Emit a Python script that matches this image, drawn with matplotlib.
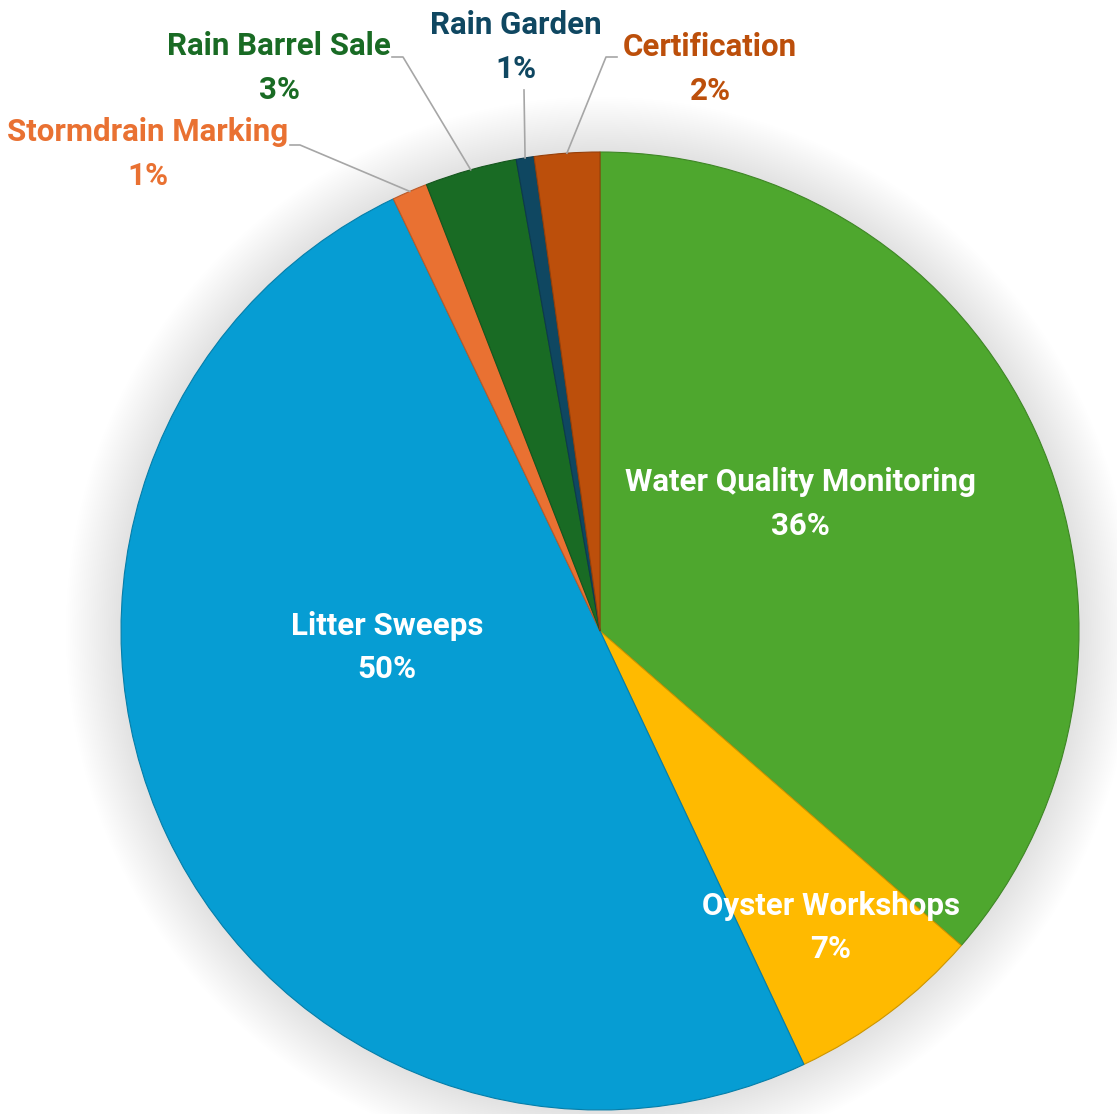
import numpy as np
import matplotlib.pyplot as plt
from matplotlib.patches import Circle
import matplotlib.colors as mcolors

# slices, clockwise from 12 o'clock
labels = ['Water Quality Monitoring', 'Oyster Workshops', 'Litter Sweeps',
          'Stormdrain Marking', 'Rain Barrel Sale', 'Rain Garden', 'Certification']
values = [36.4, 6.6, 49.9, 1.2, 3.1, 0.6, 2.2]
colors = ['#4EA72E', '#FFBA00', '#069DD3', '#E97132', '#196B24', '#0F4761', '#BC4F0B']

plt.rcParams['font.family'] = ['Roboto', 'DejaVu Sans']

W, H = 1117, 1114
fig = plt.figure(figsize=(W / 100, H / 100), dpi=100)
ax = fig.add_axes([0, 0, 1, 1])

cx, cy, R = 600, H - 631, 479

# soft glow behind the pie
for r in np.linspace(R + 55, R, 30):
    ax.add_patch(Circle((cx, cy), r, color='#808080', alpha=0.008, lw=0, zorder=0))

wedges, _ = ax.pie(values, colors=colors, startangle=90, counterclock=False,
                   center=(cx, cy), radius=R, frame=True,
                   wedgeprops=dict(linewidth=0.8))
for w, c in zip(wedges, colors):
    w.set_edgecolor(np.array(mcolors.to_rgb(c)) * 0.8)
    w.set_zorder(2)
ax.set_xlim(0, W)
ax.set_ylim(0, H)
ax.set_aspect('equal')
ax.axis('off')

pct = [f'{round(v)}%' for v in values]
fs = 22.5

# labels inside the big slices (offset from centre, in radius units)
inside = {0: (0.418, 0.265), 1: (0.482, -0.619), 2: (-0.445, -0.035)}
for i, (dx, dy) in inside.items():
    ax.text(cx + dx * R, cy + dy * R, f'{labels[i]}\n{pct[i]}', color='white',
            fontsize=fs, fontweight='bold', ha='center', va='center',
            linespacing=1.55, zorder=5)

# outside labels: text centre, stub start, stub end (pixel coords, y down)
outside = {
    3: ((148, 154), (290, 145), (300, 145)),
    4: ((279, 68), (392, 57), (403, 57)),
    5: ((516, 47), (524, 90), (524, 90)),
    6: ((710, 69), (617, 57), (606, 57)),
}
for i, ((tx, ty), (sx, sy), (kx, ky)) in outside.items():
    w = wedges[i]
    mid = np.deg2rad((w.theta1 + w.theta2) / 2)
    ex, ey = cx + R * np.cos(mid), cy + R * np.sin(mid)
    ax.plot([sx, kx, ex], [H - sy, H - ky, ey], color='#A6A6A6', lw=1.2, zorder=3)
    ax.text(tx, H - ty, f'{labels[i]}\n{pct[i]}', color=colors[i],
            fontsize=fs, fontweight='bold', ha='center', va='center',
            linespacing=1.55, zorder=5)

fig.savefig('out.png', dpi=100, facecolor='white')
